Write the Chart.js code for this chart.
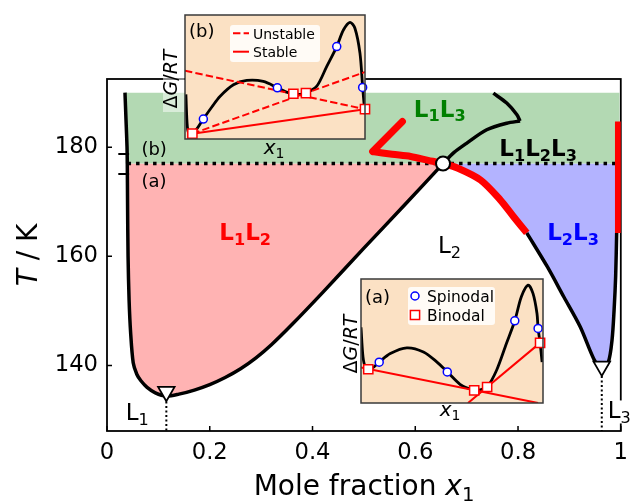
<!DOCTYPE html>
<html>
<head>
<meta charset="utf-8">
<script src="https://cdn.jsdelivr.net/npm/chart.js@4.4.1/dist/chart.umd.min.js"></script>
<style>
  html, body { margin: 0; padding: 0; background: #fff; }
  #wrap { position: relative; width: 636px; height: 501px; }
  canvas { position: absolute; }
</style>
</head>
<body>
<div id="wrap">
  <canvas id="main" width="636" height="501" style="left:0;top:0"></canvas>
  <canvas id="inset-b" width="240" height="165" style="left:140px;top:0"></canvas>
  <canvas id="inset-a" width="240" height="160" style="left:320px;top:270px"></canvas>
</div>
<script>
// main phase diagram
const xTicks = [0, 0.2, 0.4, 0.6, 0.8, 1]
const tTicks = [140, 160, 180]
const threePhaseT = 177
const l1l3TopT = 190

const leftBranch = [
  [0.035, 190], [0.037, 185], [0.039, 180], [0.0395, 177], [0.040, 170], [0.041, 160],
  [0.043, 152], [0.046, 146], [0.051, 140.5], [0.058, 138.4], [0.066, 137.2],
  [0.078, 136.0], [0.094, 135.0], [0.1155, 134.4],
]
const rightBranch = [
  [0.14, 134.75], [0.17, 135.5], [0.20, 136.5], [0.23, 137.8], [0.26, 139.4], [0.29, 141.4],
  [0.32, 143.8], [0.36, 147.5], [0.42, 153.4], [0.50, 161.5], [0.58, 169.5], [0.654, 177],
]
const cuspLower = [[0.654, 177], [0.675, 179.0], [0.701, 180.8], [0.739, 183.2], [0.778, 184.4], [0.804, 184.8]]
const cuspUpper = [[0.804, 184.8], [0.7975, 186.0], [0.778, 188.1], [0.752, 189.9]]
const redCorner = [[0.575, 184.7], [0.517, 179.2]]
const redCurve = [
  [0.517, 179.2], [0.555, 178.7], [0.591, 178.3], [0.625, 177.6], [0.654, 177],
  [0.682, 176.2], [0.727, 174.0], [0.765, 170.4], [0.791, 167.3], [0.817, 164.3],
]
const l2l3Left = [[0.817, 164.3], [0.857, 158.1], [0.889, 152.6], [0.921, 147.1], [0.947, 141.3], [0.963, 139.0]]
const l3Side = [[0.963, 139.0], [0.976, 140.7], [0.983, 144.7], [0.987, 150.2], [0.990, 156.3], [0.992, 164.3]]
const redBar = [[0.9955, 164.3], [0.9955, 184.7]]
const triplePoint = [[0.654, 177]]
const criticalPoints = [[0.1155, 135.2], [0.963, 139.85]]
const markB = [[0.022, 178.75], [0.043, 178.75]]
const markA = [[0.022, 175.1], [0.043, 175.1]]

// inset (b): unstable / stable tangents
const insetBCurve = [
  [0.005, 0.36], [0.013, 0.10], [0.025, 0.035], [0.041, 0.043], [0.07, 0.09], [0.102, 0.161],
  [0.15, 0.26], [0.194, 0.343], [0.269, 0.437], [0.343, 0.472], [0.435, 0.464], [0.513, 0.413],
  [0.56, 0.38], [0.602, 0.365], [0.64, 0.36], [0.672, 0.37], [0.731, 0.424], [0.787, 0.584],
  [0.843, 0.745], [0.88, 0.879], [0.917, 0.941], [0.944, 0.893], [0.972, 0.692], [0.987, 0.416],
  [0.996, 0.263], [1.0, 0.2],
]
const insetBSpinodal = [[0.102, 0.161], [0.513, 0.413], [0.843, 0.745], [0.987, 0.416]]
const insetBBinodal = [[0.041, 0.043], [0.602, 0.365], [0.672, 0.37], [1.0, 0.241]]
const insetBUnstable1 = [[0, 0.55], [1, 0.241]]
const insetBUnstable2 = [[0.041, 0.043], [1, 0.54]]
const insetBStable = [[0.041, 0.043], [1, 0.241]]

// inset (a): spinodal / binodal
const insetACurve = [
  [0, 0.61], [0.011, 0.372], [0.024, 0.29], [0.045, 0.272], [0.065, 0.285], [0.1, 0.329],
  [0.161, 0.399], [0.252, 0.445], [0.343, 0.412], [0.416, 0.332], [0.474, 0.251], [0.544, 0.151],
  [0.599, 0.112], [0.622, 0.102], [0.653, 0.106], [0.693, 0.129], [0.745, 0.264], [0.799, 0.48],
  [0.845, 0.663], [0.881, 0.857], [0.918, 0.951], [0.945, 0.884], [0.967, 0.722], [0.973, 0.601],
  [0.984, 0.485], [0.995, 0.33],
]
const insetASpinodal = [[0.1, 0.329], [0.474, 0.251], [0.845, 0.663], [0.973, 0.601]]
const insetABinodal = [[0.04, 0.272], [0.622, 0.102], [0.693, 0.129], [0.984, 0.485]]
const insetATangent1 = [[0, 0.286], [0.973, 0]]
const insetATangent2 = [[0.588, 0], [0.984, 0.485]]

const FONT = '"DejaVu Sans"'
Chart.defaults.font.family = FONT
Chart.defaults.color = '#000'

const xy = (arr) => arr.map(([x, y]) => ({ x, y }))

function drawRich(ctx, parts, x, y, size, align, angle) {
  const fontOf = (flags) => {
    const s = flags.includes('s') ? size * 0.7 : size
    return `${flags.includes('i') ? 'italic ' : ''}${flags.includes('b') ? 'bold ' : ''}${s}px ${FONT}`
  }
  ctx.save()
  ctx.translate(x, y)
  if (angle) ctx.rotate(angle)
  ctx.textBaseline = 'alphabetic'
  ctx.textAlign = 'left'
  let width = 0
  parts.forEach(([text, flags = '']) => {
    ctx.font = fontOf(flags)
    width += ctx.measureText(text).width
  })
  let cx = align === 'center' ? -width / 2 : align === 'right' ? -width : 0
  parts.forEach(([text, flags = '']) => {
    ctx.font = fontOf(flags)
    ctx.fillText(text, cx, flags.includes('s') ? size * 0.2 : 0)
    cx += ctx.measureText(text).width
  })
  ctx.restore()
  return width
}

const regionLabels = [
  { parts: [['L', 'b'], ['1', 'bs'], ['L', 'b'], ['2', 'bs']], x: 0.269, t: 163.0, color: '#ff0000' },
  { parts: [['L', 'b'], ['1', 'bs'], ['L', 'b'], ['3', 'bs']], x: 0.6476, t: 185.6, color: '#008000' },
  { parts: [['L', 'b'], ['1', 'bs'], ['L', 'b'], ['2', 'bs'], ['L', 'b'], ['3', 'bs']], x: 0.839, t: 178.3, color: '#000' },
  { parts: [['L', 'b'], ['2', 'bs'], ['L', 'b'], ['3', 'bs']], x: 0.907, t: 163.0, color: '#0000ff' },
  { parts: [['L'], ['2', 's']], x: 0.6667, t: 160.6, color: '#000' },
  { parts: [['L'], ['1', 's']], x: 0.059, t: 130.0, color: '#000' },
  { parts: [['L'], ['3', 's']], x: 0.997, t: 130.3, color: '#000', box: true },
]

const mainDecor = {
  id: 'mainDecor',
  beforeDatasetsDraw(chart) {
    const { ctx, chartArea: a, scales: { x, y } } = chart
    ctx.save()
    ctx.strokeStyle = '#000'
    ctx.lineWidth = 1.8
    ctx.strokeRect(a.left, a.top, a.right - a.left, a.bottom - a.top)
    ctx.beginPath()
    xTicks.forEach((v) => {
      const px = x.getPixelForValue(v)
      ctx.moveTo(px, a.bottom)
      ctx.lineTo(px, a.bottom - 5)
    })
    tTicks.forEach((v) => {
      const py = y.getPixelForValue(v)
      ctx.moveTo(a.left, py)
      ctx.lineTo(a.left + 5, py)
    })
    ctx.lineWidth = 1.5
    ctx.stroke()
    ctx.restore()
  },
  afterDraw(chart) {
    const { ctx, scales: { x, y } } = chart
    regionLabels.forEach((lab) => {
      const px = x.getPixelForValue(lab.x)
      const py = y.getPixelForValue(lab.t)
      if (lab.box) {
        ctx.fillStyle = '#fff'
        ctx.fillRect(px - 12, py - 18, 24, 23)
      }
      ctx.fillStyle = lab.color
      drawRich(ctx, lab.parts, px, py, 23, 'center')
    })
    ctx.fillStyle = '#000'
    drawRich(ctx, [['(b)']], x.getPixelForValue(0.067), y.getPixelForValue(178.5), 18, 'left')
    drawRich(ctx, [['(a)']], x.getPixelForValue(0.067), y.getPixelForValue(172.75), 18, 'left')
    drawRich(ctx, [['Mole fraction '], ['x', 'i'], ['1', 's']], 364, 495, 28, 'center')
    drawRich(ctx, [['T', 'i'], [' / K']], 37, 255, 28, 'center', -Math.PI / 2)
  },
}

const line = (data, opts) => ({
  data: xy(data),
  borderColor: '#000',
  borderWidth: 3.5,
  backgroundColor: 'rgba(0,0,0,0)',
  fill: false,
  pointRadius: 0,
  tension: 0,
  ...opts,
})
const SMOOTH = 0.3

const pinkPts = [...leftBranch.filter((p) => p[1] <= threePhaseT), ...rightBranch]
const bluePts = [...redCurve.slice(4), ...l2l3Left.slice(1), ...l3Side.slice(1), [0.9955, 164.3], [0.9955, threePhaseT]]

new Chart(document.getElementById('main'), {
  type: 'line',
  data: {
    datasets: [
      line([[0.036, l1l3TopT], [0.998, l1l3TopT]], { borderColor: 'rgba(0,0,0,0)', borderWidth: 0, backgroundColor: '#b3d9b3', fill: { value: threePhaseT }, order: 10 }),
      line(pinkPts, { borderColor: 'rgba(0,0,0,0)', borderWidth: 0, backgroundColor: '#ffb3b3', fill: { value: threePhaseT }, tension: SMOOTH, order: 10 }),
      line(bluePts, { borderColor: 'rgba(0,0,0,0)', borderWidth: 0, backgroundColor: '#b3b3ff', fill: { value: threePhaseT }, tension: SMOOTH, order: 10 }),
      line([[0.04, threePhaseT], [0.995, threePhaseT]], { borderDash: [3.5, 5], order: 8 }),
      line([...leftBranch, ...rightBranch], { tension: SMOOTH, order: 5 }),
      line(cuspLower, { tension: SMOOTH, order: 5 }),
      line(cuspUpper, { tension: SMOOTH, order: 5 }),
      line(l2l3Left, { tension: SMOOTH, order: 5 }),
      line(l3Side, { tension: SMOOTH, order: 5 }),
      line(redCorner, { borderColor: '#ff0000', borderWidth: 7, borderCapStyle: 'round', order: 4 }),
      line(redCurve, { borderColor: '#ff0000', borderWidth: 7, tension: SMOOTH, order: 4 }),
      line(redBar, { borderColor: '#ff0000', borderWidth: 7, order: 4 }),
      line(markB, { borderWidth: 2, order: 3 }),
      line(markA, { borderWidth: 2, order: 3 }),
      line([[criticalPoints[0][0], 133.4], [criticalPoints[0][0], 128]], { borderWidth: 2, borderDash: [2, 2.5], order: 3 }),
      line([[criticalPoints[1][0], 138.1], [criticalPoints[1][0], 128]], { borderWidth: 2, borderDash: [2, 2.5], order: 3 }),
      {
        data: xy(criticalPoints),
        showLine: false,
        pointStyle: 'triangle',
        rotation: 180,
        pointRadius: 9.5,
        pointBackgroundColor: '#fff',
        pointBorderColor: '#000',
        pointBorderWidth: 1.8,
        clip: false,
        order: 1,
      },
      {
        data: xy(triplePoint),
        showLine: false,
        pointStyle: 'circle',
        pointRadius: 7,
        pointBackgroundColor: '#fff',
        pointBorderColor: '#000',
        pointBorderWidth: 2,
        order: 1,
      },
    ],
  },
  options: {
    responsive: false,
    animation: false,
    layout: { padding: { top: 79, right: 12, left: 0, bottom: 0 } },
    elements: { point: { radius: 0 }, line: { borderJoinStyle: 'round' } },
    plugins: { legend: { display: false }, tooltip: { enabled: false }, colors: { enabled: false } },
    scales: {
      x: {
        type: 'linear',
        min: 0,
        max: 1,
        grid: { display: false, drawTicks: false },
        border: { display: false },
        afterBuildTicks: (s) => { s.ticks = xTicks.map((value) => ({ value })) },
        afterFit: (s) => { s.height = 70 },
        ticks: { autoSkip: false, maxRotation: 0, padding: 8, font: { size: 22.7 }, callback: (v) => String(v) },
      },
      y: {
        type: 'linear',
        min: 128,
        max: 192.5,
        grid: { display: false, drawTicks: false },
        border: { display: false },
        afterBuildTicks: (s) => { s.ticks = tTicks.map((value) => ({ value })) },
        afterFit: (s) => { s.width = 107 },
        ticks: { autoSkip: false, padding: 9, font: { size: 22.7 }, callback: (v) => String(v) },
      },
    },
  },
  plugins: [mainDecor],
})

function renderInset(id, cfg) {
  const decor = {
    id: 'insetDecor',
    beforeDatasetsDraw(chart) {
      const { ctx, chartArea: a } = chart
      ctx.save()
      ctx.fillStyle = '#fbe1c4'
      ctx.fillRect(a.left, a.top, a.right - a.left, a.bottom - a.top)
      ctx.restore()
    },
    afterDraw(chart) {
      const { ctx, chartArea: a } = chart
      ctx.save()
      ctx.strokeStyle = '#3a3a3a'
      ctx.lineWidth = 1.5
      ctx.strokeRect(a.left, a.top, a.right - a.left, a.bottom - a.top)
      if (cfg.ylabelShade) {
        ctx.fillStyle = 'rgba(255,255,255,0.5)'
        ctx.fillRect(...cfg.ylabelShade)
      }
      ctx.fillStyle = '#000'
      drawRich(ctx, [[cfg.tag]], cfg.tagPos[0], cfg.tagPos[1], 18, 'left')
      drawRich(ctx, [['Δ'], ['G', 'i'], ['/'], ['R', 'i'], ['T', 'i']], cfg.ylabelPos[0], cfg.ylabelPos[1], 19, 'center', -Math.PI / 2)
      drawRich(ctx, [['x', 'i'], ['1', 's']], cfg.xlabelPos[0], cfg.xlabelPos[1], 20, 'center')

      const [bx, by, bw, bh] = cfg.legendBox
      ctx.fillStyle = 'rgba(255,255,255,0.85)'
      ctx.beginPath()
      ctx.roundRect(bx, by, bw, bh, 3)
      ctx.fill()
      cfg.legend.forEach((item) => {
        const [mx, my] = item.at
        ctx.strokeStyle = item.color
        ctx.fillStyle = '#fff'
        ctx.lineWidth = item.kind === 'line' ? 2 : 1.5
        ctx.beginPath()
        if (item.kind === 'line') {
          ctx.setLineDash(item.dash || [])
          ctx.moveTo(mx - 8, my)
          ctx.lineTo(mx + 8, my)
          ctx.stroke()
          ctx.setLineDash([])
        } else if (item.kind === 'circle') {
          ctx.arc(mx, my, 4, 0, Math.PI * 2)
          ctx.fill()
          ctx.stroke()
        } else {
          ctx.rect(mx - 4.6, my - 4.6, 9.2, 9.2)
          ctx.fill()
          ctx.stroke()
        }
        ctx.fillStyle = '#000'
        drawRich(ctx, [[item.text]], mx + 12, my + 5.5, cfg.legendSize, 'left')
      })
      ctx.restore()
    },
  }

  const redLines = cfg.tangents.map((t) => ({
    data: xy(t.points),
    borderColor: '#ff0000',
    borderWidth: 2,
    borderDash: t.dashed ? [7.4, 3.2] : [],
    pointRadius: 0,
    clip: 0,
    order: 2,
  }))

  new Chart(document.getElementById(id), {
    type: 'line',
    data: {
      datasets: [
        {
          data: xy(cfg.binodal),
          showLine: false,
          pointStyle: 'rect',
          pointRadius: 6.5,
          pointBackgroundColor: '#fff',
          pointBorderColor: '#ff0000',
          pointBorderWidth: 1.5,
          clip: false,
          order: 1,
        },
        {
          data: xy(cfg.spinodal),
          showLine: false,
          pointStyle: 'circle',
          pointRadius: 4,
          pointBackgroundColor: '#fff',
          pointBorderColor: '#0000ff',
          pointBorderWidth: 1.5,
          clip: false,
          order: 1,
        },
        ...redLines,
        {
          data: xy(cfg.curve),
          borderColor: '#000',
          borderWidth: 2.8,
          pointRadius: 0,
          tension: 0.3,
          clip: 0,
          order: 3,
        },
      ],
    },
    options: {
      responsive: false,
      animation: false,
      layout: { padding: cfg.padding },
      plugins: { legend: { display: false }, tooltip: { enabled: false }, colors: { enabled: false } },
      scales: {
        x: { type: 'linear', display: false, min: 0, max: 1 },
        y: { type: 'linear', display: false, min: 0, max: 1 },
      },
    },
    plugins: [decor],
  })
}

renderInset('inset-b', {
  curve: insetBCurve,
  spinodal: insetBSpinodal,
  binodal: insetBBinodal,
  tangents: [
    { points: insetBUnstable1, dashed: true },
    { points: insetBUnstable2, dashed: true },
    { points: insetBStable, dashed: false },
  ],
  padding: { left: 45, top: 15, right: 15, bottom: 26 },
  tag: '(b)',
  tagPos: [49, 37],
  ylabelPos: [36.5, 79],
  ylabelShade: [23, 45, 21, 67],
  xlabelPos: [134, 154],
  legendBox: [90, 25, 90, 37],
  legendSize: 14,
  legend: [
    { kind: 'line', dash: [7.4, 3.2], color: '#ff0000', at: [101, 33.3], text: 'Unstable' },
    { kind: 'line', color: '#ff0000', at: [101, 51.7], text: 'Stable' },
  ],
})

renderInset('inset-a', {
  curve: insetACurve,
  spinodal: insetASpinodal,
  binodal: insetABinodal,
  tangents: [
    { points: insetATangent1, dashed: false },
    { points: insetATangent2, dashed: false },
  ],
  padding: { left: 41, top: 9, right: 17, bottom: 27 },
  tag: '(a)',
  tagPos: [45, 33],
  ylabelPos: [37, 74],
  xlabelPos: [130, 146],
  legendBox: [88, 17, 87, 38],
  legendSize: 15.5,
  legend: [
    { kind: 'circle', color: '#0000ff', at: [95, 26], text: 'Spinodal' },
    { kind: 'rect', color: '#ff0000', at: [95, 45], text: 'Binodal' },
  ],
})
</script>
</body>
</html>
